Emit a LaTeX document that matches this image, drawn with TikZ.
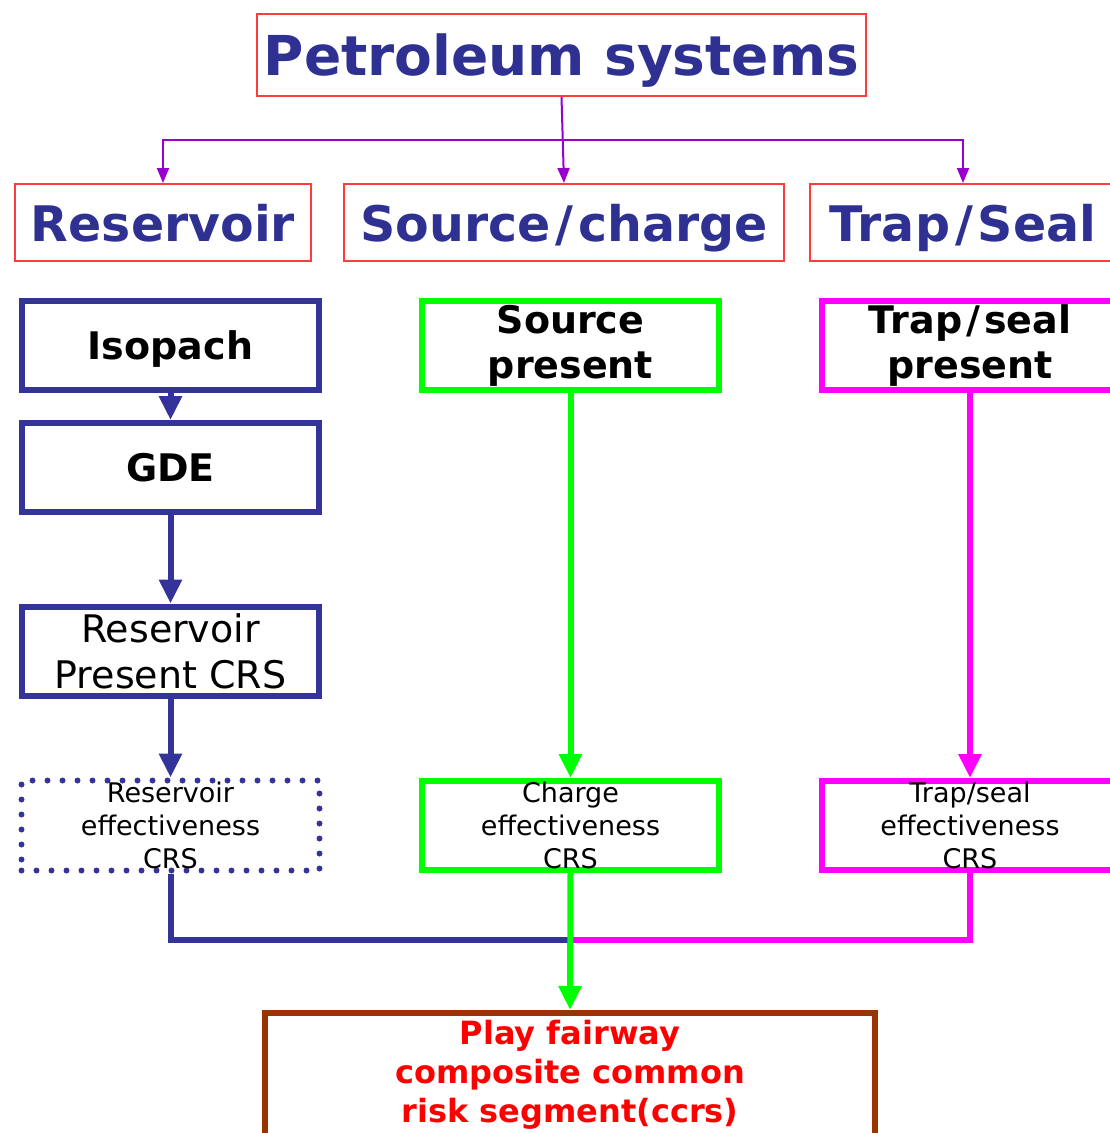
\documentclass[tikz,border=0pt]{standalone}
\usepackage{fontspec}
\setmainfont{DejaVu Sans}
\usepackage{xcolor}
\usetikzlibrary{arrows.meta}
\definecolor{navy}{RGB}{46,49,146}
\definecolor{boxblue}{RGB}{51,51,153}
\definecolor{boxred}{RGB}{255,60,60}
\definecolor{linkpurple}{RGB}{153,0,204}
\definecolor{brightgreen}{RGB}{0,255,0}
\definecolor{brightmagenta}{RGB}{255,0,255}
\definecolor{brown}{RGB}{153,51,0}
\newcommand{\slashgap}{\kern5pt/\kern5pt}

\begin{document}
\begin{tikzpicture}[x=1pt,y=-1pt,inner sep=0pt,align=center,
  title/.style={draw=boxred,line width=2pt,text=navy,minimum width=609,minimum height=82,
    text depth=0pt,font=\fontsize{55}{66}\selectfont\bfseries},
  group/.style={draw=boxred,line width=2pt,text=navy,minimum height=77,text depth=0pt,
    font=\fontsize{49}{58}\selectfont\bfseries},
  stage/.style={draw,line width=6pt,minimum width=297,minimum height=89},
  bluebox/.style={stage,draw=boxblue},
  greenbox/.style={stage,draw=brightgreen},
  magentabox/.style={stage,draw=brightmagenta},
  dotbox/.style={draw=boxblue,line width=6pt,line cap=round,dash pattern=on 0pt off 15pt,
    minimum width=298,minimum height=90},
  strong/.style={font=\fontsize{38}{45}\selectfont\bfseries},
  plain/.style={font=\fontsize{38}{46}\selectfont},
  small/.style={font=\fontsize{27}{33}\selectfont},
  playbox/.style={draw=brown,line width=6pt,text=red,minimum width=610,minimum height=124,
    font=\fontsize{32}{39}\selectfont\bfseries},
  thin arrow/.style={draw=linkpurple,line width=2pt,-{Triangle[width=12pt,length=15pt]}},
  thick arrow/.style={line width=6pt,-{Triangle[width=22pt,length=24pt]}}]
\useasboundingbox (0,0) rectangle (1109,1133);
\node (1) at (561.5,55) [title] {Petroleum systems};
\node (2) at (163,222.5) [group,minimum width=296] {Reservoir};
\node (3) at (564,222.5) [group,minimum width=440] {Source\slashgap charge};
\node (4) at (963,222.5) [group,minimum width=306] {Trap\slashgap Seal};
\node (5) at (170.5,345.5) [bluebox,strong,text depth=0pt] {Isopach};
\node (6) at (170.5,467.5) [bluebox,strong] {GDE};
\node (7) at (170.5,651) [bluebox,plain] {Reservoir\\Present CRS};
\node (8) at (170.5,825.5) [dotbox,small] {Reservoir\\effectiveness\\CRS};
\node (9) at (570.5,345.5) [greenbox,strong] {Source\\present};
\node (10) at (570.5,825.5) [greenbox,small] {Charge\\effectiveness\\CRS};
\node (11) at (970,345.5) [magentabox,strong] {Trap\kern4pt/\kern4pt seal\\present};
\node (12) at (970,825.5) [magentabox,small] {Trap/seal\\effectiveness\\CRS};
\node (13) at (570,1075) [playbox] {Play fairway\\composite common\\risk segment(ccrs)};
\coordinate (14) at (562.5,140);
\coordinate (15) at (571,940);
% top level links
\draw [thin arrow] (1.south) -- (3.north);
\draw [thin arrow] (14) -| (2.north);
\draw [thin arrow] (14) -| (4.north);
% stage links
\draw [thick arrow,boxblue] (5) -- (6);
\draw [thick arrow,boxblue] (6) -- (7);
\draw [thick arrow,boxblue] (7) -- (8);
\draw [thick arrow,brightgreen] (9) -- (10);
\draw [thick arrow,brightmagenta] (11) -- (12);
\draw [line width=6pt,boxblue] (8.south) |- (15);
\draw [line width=6pt,brightmagenta] (12.south) |- (15);
\draw [thick arrow,brightgreen] (10.south) -- (13.north);
\end{tikzpicture}
\end{document}
